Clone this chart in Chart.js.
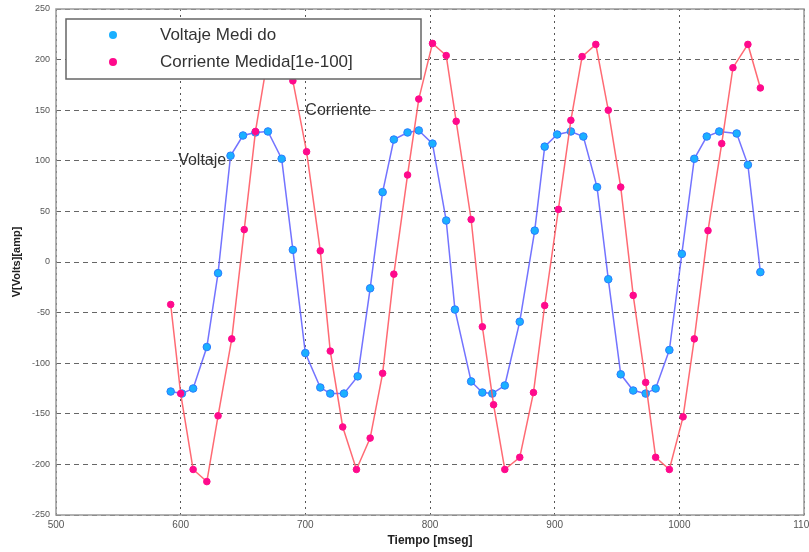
<!DOCTYPE html>
<html>
<head>
<meta charset="utf-8">
<script src="https://cdn.jsdelivr.net/npm/chart.js@4/dist/chart.umd.min.js"></script>
<style>
  html, body { margin: 0; padding: 0; background: #fff; }
  #wrap { width: 809px; height: 552px; position: relative; }
</style>
</head>
<body>
<div id="wrap"><canvas id="chart" width="809" height="552"></canvas></div>
<script>
// Tiempo [mseg] de cada muestra
const tiempoV = [592,601,610,621,630,640,650,660,670,681,690,700,712,720,731,742,752,762,771,782,791,802,813,820,833,842,850,860,872,884,892,902,913,923,934,943,953,963,973,981,992,1002,1012,1022,1032,1046,1055,1065];
const voltaje = [-128,-130,-125,-84,-11,105,125,128,129,102,12,-90,-124,-130,-130,-113,-26,69,121,128,130,117,41,-47,-118,-129,-130,-122,-59,31,114,126,129,124,74,-17,-111,-127,-130,-125,-87,8,102,124,129,127,96,-10];

const tiempoC = [592,600,610,621,630,641,651,660,671,681,690,701,712,720,730,741,752,762,771,782,791,802,813,821,833,842,851,860,872,883,892,903,913,922,933,943,953,963,973,981,992,1003,1012,1023,1034,1043,1055,1065];
const corriente = [-42,-130,-205,-217,-152,-76,32,129,210,218,179,109,11,-88,-163,-205,-174,-110,-12,86,161,216,204,139,42,-64,-141,-205,-193,-129,-43,52,140,203,215,150,74,-33,-119,-193,-205,-153,-76,31,117,192,215,172];

const seriesNames = ["Voltaje Medi do", "Corriente Medida[1e-100]"];
const xTicks = [500, 600, 700, 800, 900, 1000, 1100];
const yTicks = [-250, -200, -150, -100, -50, 0, 50, 100, 150, 200, 250];

// text labels placed at data coords
const notas = [
  { text: "Voltaje", x: 598, y: 100 },
  { text: "Corriente", x: 700, y: 150 },
];

const toPts = (xs, ys) => xs.map((x, i) => ({ x, y: ys[i] }));

const gray = "#555";
const font = "'Liberation Sans', Arial, sans-serif";

// box around the axes + annotations + legend drawn inside the plot
const extras = {
  id: "extras",
  afterDatasetsDraw(chart) {
    const { ctx, chartArea: a, scales } = chart;
    ctx.save();
    // frame
    ctx.strokeStyle = "#999";
    ctx.lineWidth = 1.5;
    ctx.strokeRect(a.left, a.top, a.right - a.left, a.bottom - a.top);

    // annotations
    ctx.fillStyle = "#333";
    ctx.font = "16px " + font;
    ctx.textBaseline = "middle";
    for (const n of notas) {
      ctx.fillText(n.text, scales.x.getPixelForValue(n.x), scales.y.getPixelForValue(n.y));
    }

    // legend
    const lx = 66, ly = 19, lw = 355, lh = 60;
    ctx.fillStyle = "#fff";
    ctx.fillRect(lx, ly, lw, lh);
    ctx.strokeStyle = "#666";
    ctx.lineWidth = 1.5;
    ctx.strokeRect(lx, ly, lw, lh);
    ctx.font = "17px " + font;
    chart.data.datasets.forEach((ds, i) => {
      const cy = ly + 16 + i * 27;
      ctx.beginPath();
      ctx.arc(113, cy, 4, 0, Math.PI * 2);
      ctx.fillStyle = ds.pointBackgroundColor;
      ctx.fill();
      ctx.fillStyle = "#333";
      ctx.fillText(ds.label, 160, cy);
    });
    ctx.restore();
  }
};

new Chart(document.getElementById("chart"), {
  type: "line",
  data: {
    datasets: [
      {
        label: seriesNames[0],
        data: toPts(tiempoV, voltaje),
        borderColor: "rgba(90,90,255,0.85)",
        borderWidth: 1.5,
        pointBackgroundColor: "#1ab0ff",
        pointBorderColor: "#2a7cff",
        pointBorderWidth: 1,
        pointRadius: 3.8,
        tension: 0,
        order: 1,
      },
      {
        label: seriesNames[1],
        data: toPts(tiempoC, corriente),
        borderColor: "rgba(255,90,100,0.9)",
        borderWidth: 1.5,
        pointBackgroundColor: "#ff0a8c",
        pointBorderColor: "#ff0a8c",
        pointBorderWidth: 1,
        pointRadius: 3.3,
        tension: 0,
        order: 0,
      },
    ],
  },
  options: {
    responsive: false,
    animation: false,
    layout: { padding: { left: 10, right: 5, top: 9, bottom: 0 } },
    plugins: {
      legend: { display: false },
      tooltip: { enabled: false },
    },
    scales: {
      x: {
        type: "linear",
        min: 500,
        max: 1100,
        afterBuildTicks: (s) => { s.ticks = xTicks.map(v => ({ value: v })); },
        afterFit: (s) => { s.height = 37; s.paddingRight = 0; s.paddingLeft = 0; },
        grid: { color: "#555", lineWidth: 1, drawTicks: false },
        border: { display: false, dash: [2, 4] },
        ticks: { color: gray, font: { size: 10, family: font }, padding: 4, callback: (v) => String(v) },
        title: { display: true, text: "Tiempo [mseg]", color: "#222", font: { size: 12, family: font, weight: "bold" }, padding: { top: 0 } },
      },
      y: {
        min: -250,
        max: 250,
        afterBuildTicks: (s) => { s.ticks = yTicks.map(v => ({ value: v })); },
        afterFit: (s) => { s.width = 46; s.paddingTop = 0; s.paddingBottom = 0; },
        grid: { color: "#666", lineWidth: 1, drawTicks: false },
        border: { display: false, dash: [5, 4] },
        ticks: { color: gray, font: { size: 9, family: font }, padding: 6 },
        title: { display: true, text: "V[Volts][amp]", color: "#222", font: { size: 11, family: font, weight: "bold" }, padding: 0 },
      },
    },
  },
  plugins: [extras],
});
</script>
</body>
</html>
